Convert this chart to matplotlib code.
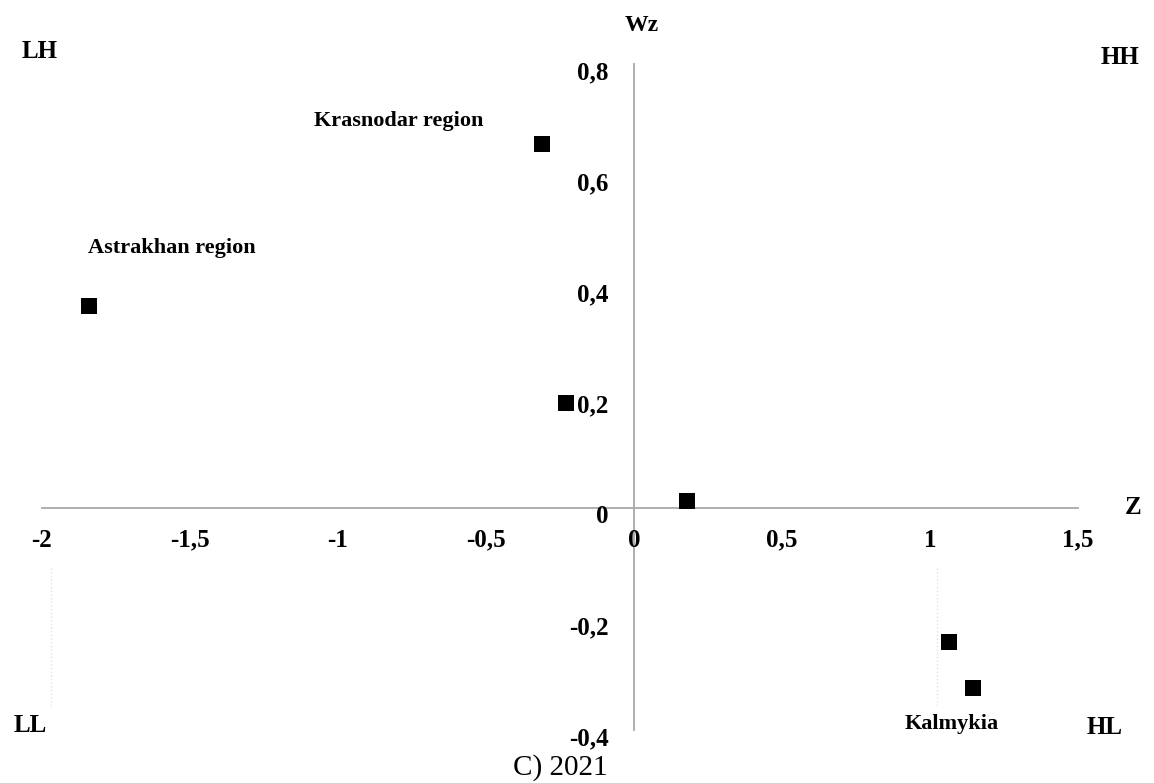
import matplotlib
matplotlib.use("Agg")
import matplotlib.pyplot as plt

# Moran scatter plot, 2021
z = [-1.84, -0.31, -0.23, 0.18, 1.064, 1.145]
wz = [0.364, 0.656, 0.19, 0.013, -0.241, -0.324]

x_ticks = [-2, -1.5, -1, -0.5, 0, 0.5, 1, 1.5]
x_tick_labels = ["-2", "-1,5", "-1", "-0,5", "0", "0,5", "1", "1,5"]
y_ticks = [0.8, 0.6, 0.4, 0.2, 0, -0.2, -0.4]
y_tick_labels = ["0,8", "0,6", "0,4", "0,2", "0", "-0,2", "-0,4"]

region_labels = ["Astrakhan region", "Krasnodar region", "Kalmykia"]
region_label_pos = [(-1.56, 0.469), (-0.795, 0.697), (1.074, -0.389)]

quadrants = ["LH", "HH", "LL", "HL"]

plt.rcParams["font.family"] = ["Liberation Serif", "DejaVu Serif"]

# pixel layout: x=0 at 634 px, 296 px per unit; y=0 at 508 px, 555 px per unit
fig = plt.figure(figsize=(11.54, 7.83), dpi=100)
ax = fig.add_axes([0, 0, 1, 1])
ax.set_xlim(-634 / 296, 520 / 296)
ax.set_ylim(-275 / 555, 508 / 555)
ax.axis("off")

axis_col = "#a8a8a8"
ax.plot([x_ticks[0], x_ticks[-1]], [0, 0], color=axis_col, lw=1.3, zorder=1)
ax.plot([0, 0], [y_ticks[-1], y_ticks[0]], color=axis_col, lw=1.3, zorder=1)

# faint dotted remnants below the axis
for xv in [-1.97, 1.024]:
    ax.plot([xv, xv], [-0.108, -0.36], color="#e2e2e2", lw=1, ls=":", zorder=0)

ax.scatter(z, wz, marker="s", s=125, color="black", zorder=3, linewidths=0)

for xv, lab in zip(x_ticks, x_tick_labels):
    ax.text(xv, -0.058, lab, ha="center", va="center", fontsize=18, fontweight="bold")
for yv, lab in zip(y_ticks, y_tick_labels):
    ax.text(-0.085, yv - 0.015, lab, ha="right", va="center", fontsize=18, fontweight="bold")

for lab, (px, py) in zip(region_labels, region_label_pos):
    ax.text(px, py, lab, ha="center", va="center", fontsize=16, fontweight="bold")

ax.text(0.027, 0.87, "Wz", ha="center", va="center", fontsize=17, fontweight="bold")
ax.text(1.687, 0.0, "Z", ha="center", va="center", fontsize=18, fontweight="bold")

quad_pos = [(40, 52), (1120, 58), (30, 725), (1105, 727)]
for lab, (px, py) in zip(quadrants, quad_pos):
    ax.text(px / 1154, 1 - py / 783, lab, transform=ax.transAxes,
            ha="center", va="center", fontsize=18, fontweight="bold")

ax.text(-0.25, -0.468, "C) 2021", ha="center", va="center", fontsize=21)

plt.savefig("out.png", dpi=100)
